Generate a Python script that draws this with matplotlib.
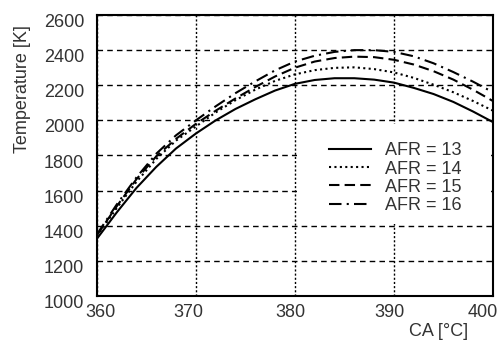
import numpy as np
import matplotlib
matplotlib.use('Agg')
import matplotlib.pyplot as plt
import matplotlib.transforms as mtransforms
from matplotlib.patches import Rectangle

plt.rcParams['font.family'] = ['Liberation Sans', 'DejaVu Sans']

# crank angle [deg] and in-cylinder temperature [K] for each air-fuel ratio
ca = [360, 362, 364, 366, 368, 370, 372, 374, 376, 378, 380,
      382, 384, 386, 388, 390, 392, 394, 396, 398, 400]
t_afr13 = [1325, 1475, 1615, 1735, 1840, 1925, 2000, 2065, 2120, 2170, 2208,
           2230, 2240, 2240, 2232, 2215, 2185, 2150, 2105, 2050, 1990]
t_afr14 = [1340, 1500, 1650, 1780, 1885, 1965, 2045, 2115, 2175, 2225, 2262,
           2286, 2299, 2302, 2292, 2273, 2242, 2203, 2160, 2110, 2055]
t_afr15 = [1345, 1510, 1665, 1795, 1895, 1980, 2055, 2125, 2190, 2250, 2300,
           2335, 2355, 2363, 2360, 2345, 2318, 2280, 2232, 2174, 2110]
t_afr16 = [1350, 1520, 1675, 1810, 1915, 2000, 2080, 2155, 2222, 2285, 2335,
           2368, 2390, 2400, 2400, 2390, 2365, 2325, 2275, 2220, 2160]
labels = ['AFR = 13', 'AFR = 14', 'AFR = 15', 'AFR = 16']

xticks = [360, 370, 380, 390, 400]
yticks = [1000, 1200, 1400, 1600, 1800, 2000, 2200, 2400, 2600]

txt = '#333333'

fig = plt.figure(figsize=(4.99, 3.41), dpi=100)
ax = fig.add_axes([0.194, 0.132, 0.794, 0.824])

styles = ['-', (0, (1, 1.6)), (0, (5, 2.5)), (0, (6, 2.5, 1, 2.5))]
for t, ls, lab in zip([t_afr13, t_afr14, t_afr15, t_afr16], styles, labels):
	ax.plot(ca, t, color='black', lw=1.5, linestyle=ls, label=lab, zorder=3)

ax.set_xlim(360, 400)
ax.set_ylim(1000, 2600)
ax.set_xticks(xticks)
ax.set_yticks(yticks)
ax.tick_params(length=0, labelsize=13, labelcolor=txt)
ax.tick_params(axis='y', pad=9)
ax.tick_params(axis='x', pad=6)

# y tick labels sit a little below their gridlines
offset = mtransforms.ScaledTranslation(0, -4 / 72, fig.dpi_scale_trans)
for lbl in ax.get_yticklabels():
	lbl.set_transform(lbl.get_transform() + offset)

# x tick labels are nudged left of their gridlines (pixels)
for lbl, dx in zip(ax.get_xticklabels(), [4, -8, -5, -4, -10]):
	shift = mtransforms.ScaledTranslation(dx / 100, 0, fig.dpi_scale_trans)
	lbl.set_transform(lbl.get_transform() + shift)

ax.set_axisbelow(True)
ax.yaxis.grid(True, color='black', lw=1.0, linestyle=(0, (4, 3)))
ax.xaxis.grid(True, color='black', lw=1.0, linestyle=(0, (1.5, 1.5)))

for s in ax.spines.values():
	s.set_linewidth(1.5)
	s.set_zorder(4)

# blank panel behind the legend
ax.add_patch(Rectangle((0.505, 0.256), 0.49, 0.356, transform=ax.transAxes,
                       facecolor='white', edgecolor='none', zorder=1))

leg = ax.legend(loc='upper left', bbox_to_anchor=(0.585, 0.547), frameon=False,
                fontsize=13, handlelength=2.35, handletextpad=0.8,
                labelspacing=0.07, borderpad=0, borderaxespad=0)
for t in leg.get_texts():
	t.set_color(txt)

ax.set_ylabel('Temperature [K]', fontsize=13, color=txt)
ax.yaxis.set_label_coords(-0.165, 0.737)
ax.set_xlabel('CA [°C]', fontsize=13, color=txt, x=0.937, ha='right', labelpad=1.5)

fig.savefig('out.png', dpi=100)
